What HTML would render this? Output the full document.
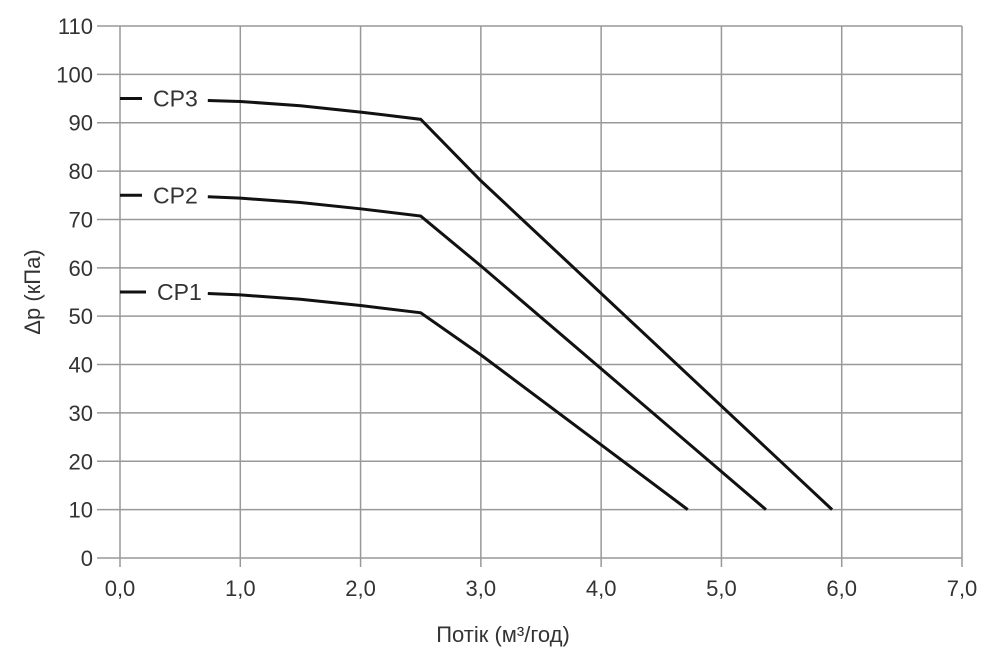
<!DOCTYPE html>
<html><head><meta charset="utf-8"><style>
html,body{margin:0;padding:0;background:#fff;}
svg text{font-family:"Liberation Sans",sans-serif;fill:#333;}
</style></head><body>
<svg id="chart" width="1000" height="650" xmlns="http://www.w3.org/2000/svg">
<g id="grid"></g>
<g id="ticks"></g>
<g id="series"></g>
<text x="40" y="292" font-size="22" text-anchor="middle" transform="rotate(-90 40 292)">Δp (кПа)</text>
<text x="503" y="642" font-size="22" text-anchor="middle">Потік (м³/год)</text>
</svg>
<script>
const xTicks=[0,1,2,3,4,5,6,7];
const xTickLabels=["0,0","1,0","2,0","3,0","4,0","5,0","6,0","7,0"];
const yTicks=[0,10,20,30,40,50,60,70,80,90,100,110];
const seriesNames=["CP1","CP2","CP3"];
const cp1X=[0.73,1.0,1.5,2.0,2.5,3.0,4.72];
const cp1Y=[54.7,54.4,53.5,52.2,50.7,42,10];
const cp2X=[0.73,1.0,1.5,2.0,2.5,3.0,5.37];
const cp2Y=[74.7,74.4,73.5,72.2,70.7,60.4,10];
const cp3X=[0.73,1.0,1.5,2.0,2.5,3.0,5.92];
const cp3Y=[94.6,94.4,93.5,92.2,90.7,78,10];
const stubY=[55,75,95];

const X0=120,X1=962,Y0=558,Y1=26;
const sx=v=>X0+(v-0)/(7-0)*(X1-X0);
const sy=v=>Y0-(v-0)/(110-0)*(Y0-Y1);
const NS="http://www.w3.org/2000/svg";
const mk=(t,a,p)=>{const e=document.createElementNS(NS,t);for(const k in a)e.setAttribute(k,a[k]);p.appendChild(e);return e;};
const grid=document.getElementById('grid'),ticks=document.getElementById('ticks'),ser=document.getElementById('series');
yTicks.forEach(v=>{
 const l=mk('line',{x1:97,x2:X1,y1:sy(v),y2:sy(v),stroke:'#999','stroke-width':1.5},grid);
 
 
 const t=mk('text',{x:93,y:sy(v)+8,'font-size':22,'text-anchor':'end'},ticks);t.textContent=v;
 
 
});
xTicks.forEach((v,i)=>{
 const l=mk('line',{x1:sx(v),x2:sx(v),y1:Y1,y2:Y0+9,stroke:'#999','stroke-width':1.5},grid);
 
 
 const t=mk('text',{x:sx(v),y:596,'font-size':22,'text-anchor':'middle'},ticks);t.textContent=xTickLabels[i];
 
 
});
[[cp1X,cp1Y],[cp2X,cp2Y],[cp3X,cp3Y]].forEach((s,i)=>{
 const d=s[0].map((x,j)=>(j?'L':'M')+sx(x)+','+sy(s[1][j])).join(' ');
 const p=mk('path',{d:d,fill:'none',stroke:'#111','stroke-width':3,'stroke-linejoin':'miter'},ser);
 
 
 const st=mk('line',{x1:120,x2:i==0?146:142,y1:sy(stubY[i]),y2:sy(stubY[i]),stroke:'#111','stroke-width':3},ser);
 
 
 const t=mk('text',{x:i==0?157:153,y:sy(stubY[i])+8,'font-size':23},ser);t.textContent=seriesNames[i];
 
 
});
</script>
</body></html>
